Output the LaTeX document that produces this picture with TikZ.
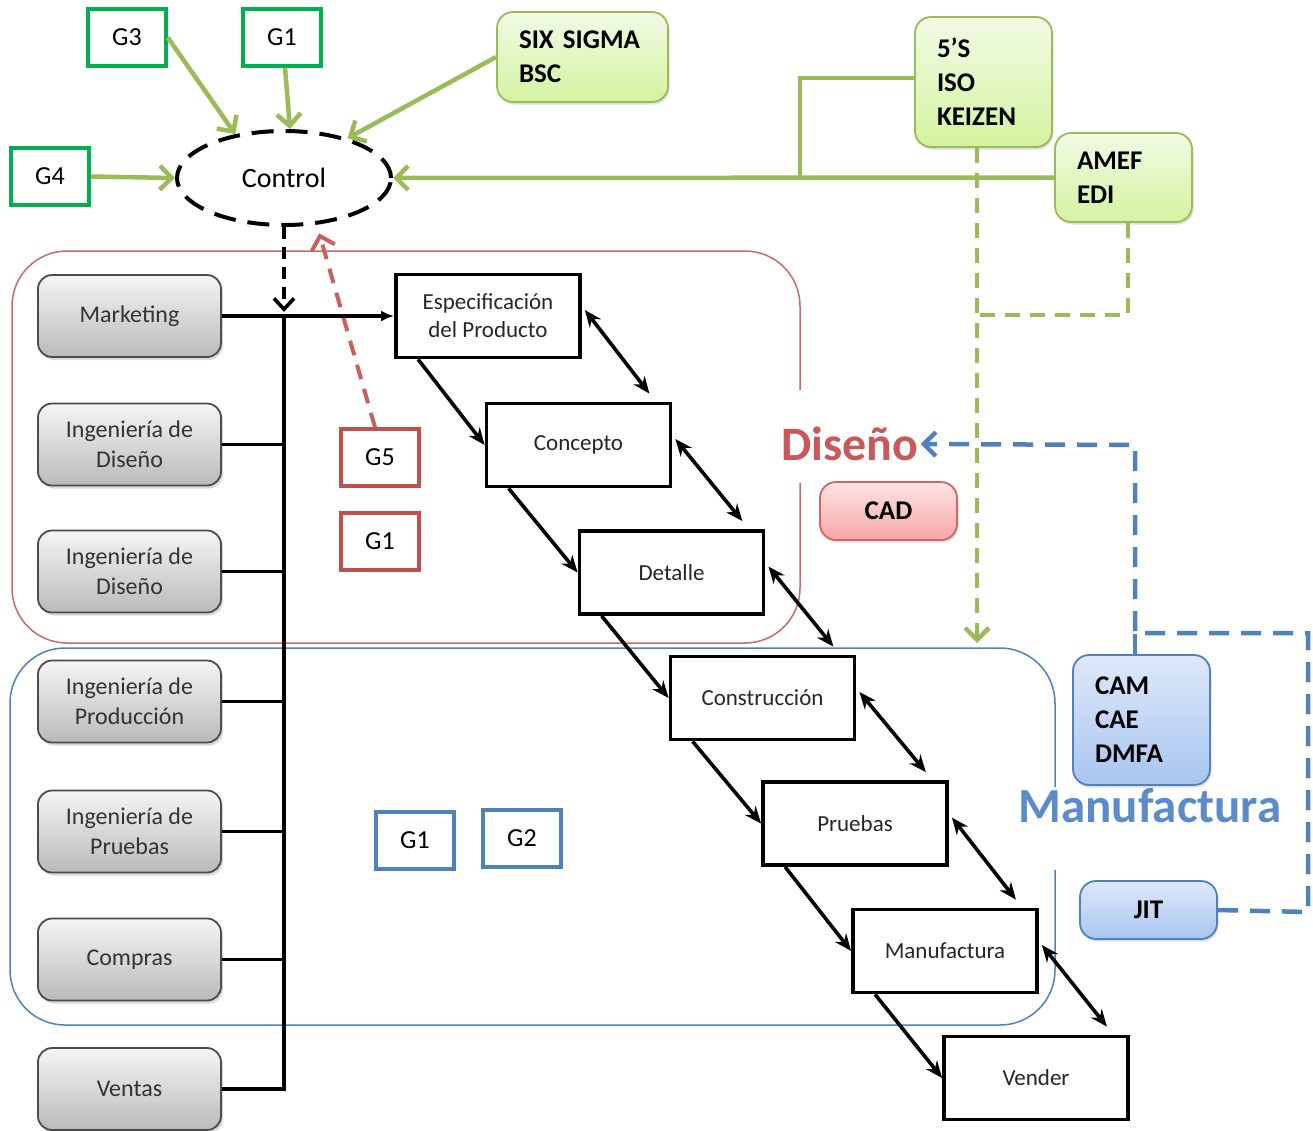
\documentclass[tikz,border=0pt]{standalone}
\usepackage{fontspec}
\setmainfont{Carlito}
\usetikzlibrary{arrows.meta,shadows,shapes.geometric}
\definecolor{gline}{HTML}{9BBB59}
\definecolor{gbord}{HTML}{00B050}
\definecolor{rbord}{HTML}{C0504D}
\definecolor{bbord}{HTML}{4F81BD}
\definecolor{rtext}{HTML}{C9585A}
\definecolor{btext}{HTML}{5B8BC9}
\definecolor{gtop}{RGB}{241,250,228}
\definecolor{gbot}{RGB}{212,243,160}
\definecolor{btop}{RGB}{222,233,250}
\definecolor{bbot}{RGB}{168,197,240}
\definecolor{rtop}{RGB}{253,228,228}
\definecolor{rbot}{RGB}{245,168,168}
\definecolor{cadbord}{HTML}{D26666}
\begin{document}
\begin{tikzpicture}[x=1pt,y=-1pt,
  gsq/.style={draw=gbord,line width=3.5pt,fill=white,minimum width=78pt,minimum height=57pt,inner sep=0pt,font=\fontsize{26}{30}\selectfont},
  rsq/.style={gsq,draw=rbord},
  bsq/.style={gsq,draw=bbord},
  grbox/.style={draw=black!70,line width=1.8pt,rounded corners=14pt,top color=black!4,bottom color=black!27,minimum width=183pt,minimum height=82pt,inner sep=0pt,align=center,font=\fontsize{24}{30}\selectfont,text=black!80,drop shadow={opacity=0.3,shadow xshift=2pt,shadow yshift=-3pt}},
  stepbox/.style={draw,line width=3.8pt,fill=white,minimum width=184pt,minimum height=83pt,inner sep=0pt,align=center,font=\fontsize{23}{28}\selectfont,text=black!85},
  lbox/.style={rounded corners=16pt,line width=1.8pt,inner xsep=22pt,inner ysep=0pt,align=left,font=\bfseries\fontsize{27}{34}\selectfont,drop shadow={opacity=0.25,shadow xshift=1.5pt,shadow yshift=-2.5pt}},
  greenbox/.style={lbox,draw=gline,top color=gtop,bottom color=gbot},
  bluebox/.style={lbox,draw=bbord,top color=btop,bottom color=bbot},
  redbox/.style={lbox,draw=cadbord,top color=rtop,bottom color=rbot},
  garrow/.style={draw=gline,line width=4.5pt,-{Straight Barb[length=12pt,width=24pt]}},
  gdash/.style={draw=gline,line width=4.5pt,dash pattern=on 15pt off 10pt},
  bdash/.style={draw=bbord,line width=4.5pt,dash pattern=on 20pt off 12pt},
  blk/.style={draw=black,line width=3.6pt},
  sarrow/.style={blk,-{Stealth[length=17pt,width=14pt]}},
  darrow/.style={blk,{Stealth[length=17pt,width=14pt]}-{Stealth[length=17pt,width=14pt]}}
]
\useasboundingbox (0,0) rectangle (1313,1130);

% regions
\draw[rbord!85,line width=1.5pt,rounded corners=55pt] (800,483) -- (800,643) -- (12,643) -- (12,251) -- (800,251) -- (800,390);
\draw[bbord,line width=1.5pt,rounded corners=55pt] (1055,870) -- (1055,1025) -- (10,1025) -- (10,648) -- (1055,648) -- (1055,787);

% control and goals
\node[ellipse,draw,line width=4pt,dash pattern=on 22pt off 12pt,minimum width=214pt,minimum height=94pt,inner sep=0pt,font=\fontsize{28}{32}\selectfont] (ctrl) at (284,178) {Control};
\node[gsq] (g3) at (127,37.5) {G3};
\node[gsq] (g1a) at (282,37.5) {G1};
\node[gsq] (g4) at (50,176.5) {G4};
\node[rsq] (g5) at (380,457.5) {G5};
\node[rsq] (g1b) at (380,541.5) {G1};
\node[bsq] (g1c) at (415,840.5) {G1};
\node[bsq] (g2) at (522,838.5) {G2};

% tool boxes
\node[greenbox,text width=127pt,minimum height=90pt] (six) at (582.5,57) {SIX SIGMA\\BSC};
\node[greenbox,text width=93pt,minimum height=130pt] (fives) at (983.5,82) {5’S\\ISO\\KEIZEN};
\node[greenbox,text width=93pt,minimum height=89pt] (amef) at (1123.5,177.5) {AMEF\\EDI};
\node[bluebox,text width=93pt,minimum height=130pt,inner xsep=22pt] (cam) at (1141.5,720) {CAM\\CAE\\DMFA};
\node[bluebox,align=center,minimum width=137pt,minimum height=58pt,inner sep=0pt] (jit) at (1148.5,910) {JIT};
\node[redbox,align=center,minimum width=137pt,minimum height=58pt,inner sep=0pt] (cad) at (888.5,511) {CAD};
\node[font=\bfseries\fontsize{48}{52}\selectfont,text=rtext,inner sep=2pt] (dis) at (850,444) {Diseño};
\node[font=\bfseries\fontsize{49}{52}\selectfont,text=btext,inner sep=2pt] (man) at (1150,806) {Manufactura};

% departments
\node[grbox] (mkt) at (129.5,316) {Marketing};
\node[grbox] (id1) at (129.5,444.5) {Ingeniería de\\Diseño};
\node[grbox] (id2) at (129.5,571.5) {Ingeniería de\\Diseño};
\node[grbox] (ip) at (129.5,701.5) {Ingeniería de\\Producción};
\node[grbox] (ipr) at (129.5,831.5) {Ingeniería de\\Pruebas};
\node[grbox] (comp) at (129.5,959.5) {Compras};
\node[grbox] (vent) at (129.5,1089) {Ventas};

% process steps
\node[stepbox] (esp) at (488,316) {Especificación\\del Producto};
\node[stepbox] (conc) at (578.5,445) {Concepto};
\node[stepbox] (det) at (671.5,572.5) {Detalle};
\node[stepbox] (cons) at (762.5,698) {Construcción};
\node[stepbox] (pru) at (855,823.5) {Pruebas};
\node[stepbox] (manu) at (945,951) {Manufactura};
\node[stepbox] (vend) at (1036,1078) {Vender};

% green connectors
\draw[garrow] (g3.east) -- (ctrl.138);
\draw[garrow] ([xshift=3pt]g1a.south) -- ([xshift=6pt]ctrl.north);
\draw[garrow] (six.west) -- (ctrl.32);
\draw[garrow] (g4.east) -- (ctrl.west);
\draw[garrow] (amef.west) -- (ctrl.east);
\draw[draw=gline,line width=4.5pt] ([yshift=4pt]fives.west) -| (800,178);
\coordinate (gtip) at (977,643);
\coordinate (gjoin) at (977,315);
\draw[gdash,-{Straight Barb[length=12pt,width=24pt]}] ([xshift=-6.5pt]fives.south) -- (gtip);
\draw[gdash] ([xshift=4.5pt]amef.south) |- (gjoin);

% blue connectors
\coordinate (bj) at (1135,633);
\draw[bdash] ([xshift=-6.5pt]cam.north) -- (bj);
\draw[bdash,-{Straight Barb[length=12pt,width=24pt]}] (jit.east) -- (1308,912) -- (1308,633) -- (bj) -- (1135,445) -- (dis.east);

% red dashed
\draw[draw=rbord!90,line width=4pt,dash pattern=on 15pt off 10pt,-{Straight Barb[length=12pt,width=24pt]},shorten >=9pt] ([xshift=-5pt]g5.north) -- (ctrl.-55);

% bus
\coordinate (bustop) at (284,316);
\draw[blk,dash pattern=on 12pt off 8pt,-{Straight Barb[length=11pt,width=20pt]}] (ctrl.south) -- ([yshift=4pt]bustop);
\draw[blk] (bustop) |- (vent.east);
\draw[blk] (id1.east) -- (id1.east -| bustop);
\draw[blk] (id2.east) -- (id2.east -| bustop);
\draw[blk] (ip.east) -- (ip.east -| bustop);
\draw[blk] (ipr.east) -- (ipr.east -| bustop);
\draw[blk] (comp.east) -- (comp.east -| bustop);
\draw[blk,-{Latex[length=13pt,width=11pt]}] (mkt.east) -- (esp.west);

% process arrows
\foreach \a/\b in {esp/conc,conc/det,det/cons,cons/pru,pru/manu,manu/vend}{
  \draw[sarrow] ([xshift=24pt]\a.south west) -- (\b.west);
  \draw[darrow] ([xshift=3pt,yshift=6pt]\a.east) -- ([xshift=-23pt,yshift=8pt]\b.north east);
}
\end{tikzpicture}
\end{document}
